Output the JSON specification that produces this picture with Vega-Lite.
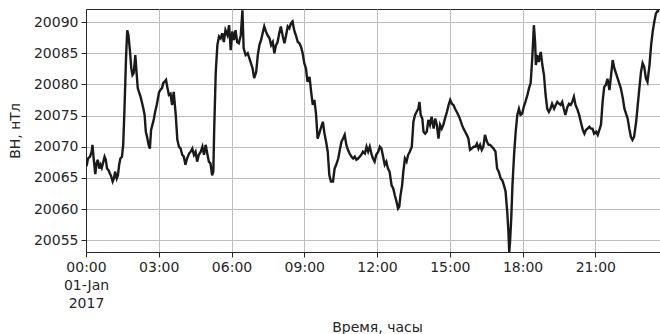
{
  "$schema": "https://vega.github.io/schema/vega-lite/v6.json",
  "width": 574,
  "height": 243,
  "autosize": {"type": "none"},
  "padding": {"left": 86, "top": 9, "right": 0, "bottom": 82},
  "background": "white",
  "config": {
    "view": {"stroke": "#262626", "strokeWidth": 1},
    "font": "DejaVu Sans",
    "axis": {
      "labelFontSize": 14,
      "titleFontSize": 14,
      "labelColor": "#262626",
      "titleColor": "#262626",
      "titleFontWeight": "normal",
      "domainColor": "#262626",
      "tickColor": "#262626",
      "tickSize": 5,
      "gridColor": "#bdbdbd",
      "labelPadding": 3
    }
  },
  "data": {
    "values": [
      {"time": "2017-01-01T00:00", "bh": 20066.8},
      {"time": "2017-01-01T00:02", "bh": 20067.1},
      {"time": "2017-01-01T00:05", "bh": 20068.1},
      {"time": "2017-01-01T00:10", "bh": 20068.4},
      {"time": "2017-01-01T00:14", "bh": 20069.2},
      {"time": "2017-01-01T00:16", "bh": 20070.3},
      {"time": "2017-01-01T00:19", "bh": 20068.1},
      {"time": "2017-01-01T00:23", "bh": 20065.6},
      {"time": "2017-01-01T00:26", "bh": 20067.3},
      {"time": "2017-01-01T00:29", "bh": 20067.9},
      {"time": "2017-01-01T00:33", "bh": 20066.5},
      {"time": "2017-01-01T00:36", "bh": 20067.1},
      {"time": "2017-01-01T00:39", "bh": 20066.6},
      {"time": "2017-01-01T00:43", "bh": 20067.6},
      {"time": "2017-01-01T00:46", "bh": 20068.4},
      {"time": "2017-01-01T00:49", "bh": 20067.9},
      {"time": "2017-01-01T00:52", "bh": 20066.5},
      {"time": "2017-01-01T00:56", "bh": 20066.2},
      {"time": "2017-01-01T00:59", "bh": 20065.7},
      {"time": "2017-01-01T01:02", "bh": 20065.3},
      {"time": "2017-01-01T01:06", "bh": 20064.4},
      {"time": "2017-01-01T01:09", "bh": 20064.9},
      {"time": "2017-01-01T01:12", "bh": 20066.0},
      {"time": "2017-01-01T01:16", "bh": 20064.9},
      {"time": "2017-01-01T01:19", "bh": 20065.4},
      {"time": "2017-01-01T01:22", "bh": 20067.1},
      {"time": "2017-01-01T01:25", "bh": 20068.1},
      {"time": "2017-01-01T01:29", "bh": 20068.4},
      {"time": "2017-01-01T01:32", "bh": 20070.3},
      {"time": "2017-01-01T01:35", "bh": 20075.6},
      {"time": "2017-01-01T01:39", "bh": 20084.2},
      {"time": "2017-01-01T01:42", "bh": 20088.7},
      {"time": "2017-01-01T01:45", "bh": 20087.9},
      {"time": "2017-01-01T01:49", "bh": 20085.2},
      {"time": "2017-01-01T01:52", "bh": 20082.6},
      {"time": "2017-01-01T01:55", "bh": 20081.5},
      {"time": "2017-01-01T01:58", "bh": 20081.8},
      {"time": "2017-01-01T02:02", "bh": 20084.7},
      {"time": "2017-01-01T02:05", "bh": 20082.0},
      {"time": "2017-01-01T02:08", "bh": 20079.4},
      {"time": "2017-01-01T02:12", "bh": 20078.6},
      {"time": "2017-01-01T02:15", "bh": 20078.0},
      {"time": "2017-01-01T02:18", "bh": 20077.2},
      {"time": "2017-01-01T02:22", "bh": 20076.1},
      {"time": "2017-01-01T02:25", "bh": 20075.1},
      {"time": "2017-01-01T02:28", "bh": 20072.4},
      {"time": "2017-01-01T02:31", "bh": 20071.6},
      {"time": "2017-01-01T02:35", "bh": 20070.3},
      {"time": "2017-01-01T02:38", "bh": 20069.7},
      {"time": "2017-01-01T02:41", "bh": 20072.7},
      {"time": "2017-01-01T02:45", "bh": 20073.7},
      {"time": "2017-01-01T02:48", "bh": 20074.5},
      {"time": "2017-01-01T02:51", "bh": 20075.6},
      {"time": "2017-01-01T02:55", "bh": 20076.7},
      {"time": "2017-01-01T02:58", "bh": 20077.8},
      {"time": "2017-01-01T03:01", "bh": 20078.8},
      {"time": "2017-01-01T03:04", "bh": 20079.1},
      {"time": "2017-01-01T03:08", "bh": 20079.4},
      {"time": "2017-01-01T03:11", "bh": 20080.2},
      {"time": "2017-01-01T03:14", "bh": 20080.4},
      {"time": "2017-01-01T03:18", "bh": 20080.7},
      {"time": "2017-01-01T03:21", "bh": 20079.6},
      {"time": "2017-01-01T03:25", "bh": 20078.3},
      {"time": "2017-01-01T03:29", "bh": 20078.5},
      {"time": "2017-01-01T03:33", "bh": 20076.7},
      {"time": "2017-01-01T03:37", "bh": 20078.8},
      {"time": "2017-01-01T03:42", "bh": 20075.1},
      {"time": "2017-01-01T03:46", "bh": 20071.1},
      {"time": "2017-01-01T03:50", "bh": 20070.0},
      {"time": "2017-01-01T03:54", "bh": 20069.7},
      {"time": "2017-01-01T03:58", "bh": 20068.7},
      {"time": "2017-01-01T04:02", "bh": 20068.4},
      {"time": "2017-01-01T04:06", "bh": 20067.1},
      {"time": "2017-01-01T04:10", "bh": 20068.1},
      {"time": "2017-01-01T04:15", "bh": 20068.9},
      {"time": "2017-01-01T04:19", "bh": 20069.2},
      {"time": "2017-01-01T04:23", "bh": 20069.7},
      {"time": "2017-01-01T04:27", "bh": 20068.7},
      {"time": "2017-01-01T04:31", "bh": 20069.2},
      {"time": "2017-01-01T04:35", "bh": 20067.6},
      {"time": "2017-01-01T04:39", "bh": 20068.7},
      {"time": "2017-01-01T04:44", "bh": 20069.2},
      {"time": "2017-01-01T04:48", "bh": 20070.0},
      {"time": "2017-01-01T04:52", "bh": 20068.7},
      {"time": "2017-01-01T04:56", "bh": 20070.3},
      {"time": "2017-01-01T05:00", "bh": 20068.9},
      {"time": "2017-01-01T05:04", "bh": 20067.6},
      {"time": "2017-01-01T05:08", "bh": 20067.3},
      {"time": "2017-01-01T05:12", "bh": 20065.4},
      {"time": "2017-01-01T05:15", "bh": 20066.0},
      {"time": "2017-01-01T05:17", "bh": 20072.4},
      {"time": "2017-01-01T05:21", "bh": 20082.0},
      {"time": "2017-01-01T05:25", "bh": 20086.3},
      {"time": "2017-01-01T05:29", "bh": 20087.7},
      {"time": "2017-01-01T05:33", "bh": 20087.4},
      {"time": "2017-01-01T05:37", "bh": 20088.2},
      {"time": "2017-01-01T05:41", "bh": 20086.8},
      {"time": "2017-01-01T05:45", "bh": 20088.7},
      {"time": "2017-01-01T05:50", "bh": 20087.9},
      {"time": "2017-01-01T05:54", "bh": 20089.5},
      {"time": "2017-01-01T05:58", "bh": 20085.5},
      {"time": "2017-01-01T06:02", "bh": 20088.5},
      {"time": "2017-01-01T06:06", "bh": 20087.1},
      {"time": "2017-01-01T06:10", "bh": 20088.7},
      {"time": "2017-01-01T06:14", "bh": 20086.8},
      {"time": "2017-01-01T06:18", "bh": 20086.6},
      {"time": "2017-01-01T06:23", "bh": 20087.9},
      {"time": "2017-01-01T06:27", "bh": 20091.9},
      {"time": "2017-01-01T06:30", "bh": 20085.8},
      {"time": "2017-01-01T06:35", "bh": 20084.7},
      {"time": "2017-01-01T06:40", "bh": 20085.0},
      {"time": "2017-01-01T06:44", "bh": 20084.2},
      {"time": "2017-01-01T06:48", "bh": 20083.4},
      {"time": "2017-01-01T06:52", "bh": 20082.6},
      {"time": "2017-01-01T06:56", "bh": 20081.0},
      {"time": "2017-01-01T07:01", "bh": 20082.0},
      {"time": "2017-01-01T07:05", "bh": 20084.7},
      {"time": "2017-01-01T07:09", "bh": 20086.3},
      {"time": "2017-01-01T07:13", "bh": 20087.1},
      {"time": "2017-01-01T07:17", "bh": 20088.2},
      {"time": "2017-01-01T07:21", "bh": 20089.3},
      {"time": "2017-01-01T07:25", "bh": 20088.5},
      {"time": "2017-01-01T07:29", "bh": 20087.9},
      {"time": "2017-01-01T07:34", "bh": 20087.4},
      {"time": "2017-01-01T07:38", "bh": 20086.3},
      {"time": "2017-01-01T07:42", "bh": 20086.8},
      {"time": "2017-01-01T07:46", "bh": 20085.0},
      {"time": "2017-01-01T07:50", "bh": 20086.3},
      {"time": "2017-01-01T07:54", "bh": 20086.8},
      {"time": "2017-01-01T07:58", "bh": 20088.2},
      {"time": "2017-01-01T08:02", "bh": 20089.3},
      {"time": "2017-01-01T08:07", "bh": 20087.7},
      {"time": "2017-01-01T08:11", "bh": 20086.6},
      {"time": "2017-01-01T08:15", "bh": 20087.9},
      {"time": "2017-01-01T08:19", "bh": 20089.3},
      {"time": "2017-01-01T08:23", "bh": 20089.0},
      {"time": "2017-01-01T08:27", "bh": 20089.8},
      {"time": "2017-01-01T08:31", "bh": 20090.1},
      {"time": "2017-01-01T08:35", "bh": 20088.7},
      {"time": "2017-01-01T08:40", "bh": 20087.7},
      {"time": "2017-01-01T08:44", "bh": 20086.8},
      {"time": "2017-01-01T08:48", "bh": 20086.6},
      {"time": "2017-01-01T08:52", "bh": 20086.0},
      {"time": "2017-01-01T08:56", "bh": 20085.0},
      {"time": "2017-01-01T09:00", "bh": 20083.4},
      {"time": "2017-01-01T09:04", "bh": 20082.6},
      {"time": "2017-01-01T09:08", "bh": 20080.4},
      {"time": "2017-01-01T09:13", "bh": 20081.2},
      {"time": "2017-01-01T09:17", "bh": 20078.8},
      {"time": "2017-01-01T09:21", "bh": 20076.7},
      {"time": "2017-01-01T09:25", "bh": 20077.5},
      {"time": "2017-01-01T09:29", "bh": 20075.3},
      {"time": "2017-01-01T09:33", "bh": 20071.3},
      {"time": "2017-01-01T09:37", "bh": 20072.1},
      {"time": "2017-01-01T09:42", "bh": 20073.2},
      {"time": "2017-01-01T09:46", "bh": 20074.0},
      {"time": "2017-01-01T09:50", "bh": 20072.1},
      {"time": "2017-01-01T09:54", "bh": 20070.8},
      {"time": "2017-01-01T09:58", "bh": 20069.2},
      {"time": "2017-01-01T10:02", "bh": 20065.4},
      {"time": "2017-01-01T10:06", "bh": 20064.4},
      {"time": "2017-01-01T10:11", "bh": 20064.4},
      {"time": "2017-01-01T10:15", "bh": 20066.5},
      {"time": "2017-01-01T10:19", "bh": 20067.1},
      {"time": "2017-01-01T10:24", "bh": 20068.1},
      {"time": "2017-01-01T10:28", "bh": 20069.5},
      {"time": "2017-01-01T10:32", "bh": 20070.8},
      {"time": "2017-01-01T10:36", "bh": 20071.3},
      {"time": "2017-01-01T10:40", "bh": 20071.9},
      {"time": "2017-01-01T10:44", "bh": 20070.3},
      {"time": "2017-01-01T10:48", "bh": 20069.5},
      {"time": "2017-01-01T10:52", "bh": 20068.9},
      {"time": "2017-01-01T10:57", "bh": 20068.4},
      {"time": "2017-01-01T11:01", "bh": 20068.1},
      {"time": "2017-01-01T11:05", "bh": 20068.4},
      {"time": "2017-01-01T11:09", "bh": 20067.9},
      {"time": "2017-01-01T11:13", "bh": 20068.1},
      {"time": "2017-01-01T11:17", "bh": 20068.4},
      {"time": "2017-01-01T11:21", "bh": 20068.7},
      {"time": "2017-01-01T11:25", "bh": 20069.2},
      {"time": "2017-01-01T11:30", "bh": 20068.9},
      {"time": "2017-01-01T11:34", "bh": 20070.0},
      {"time": "2017-01-01T11:38", "bh": 20069.2},
      {"time": "2017-01-01T11:42", "bh": 20070.0},
      {"time": "2017-01-01T11:46", "bh": 20068.9},
      {"time": "2017-01-01T11:50", "bh": 20068.1},
      {"time": "2017-01-01T11:54", "bh": 20067.6},
      {"time": "2017-01-01T11:58", "bh": 20068.7},
      {"time": "2017-01-01T12:03", "bh": 20069.2},
      {"time": "2017-01-01T12:07", "bh": 20070.0},
      {"time": "2017-01-01T12:11", "bh": 20069.7},
      {"time": "2017-01-01T12:15", "bh": 20068.4},
      {"time": "2017-01-01T12:19", "bh": 20067.1},
      {"time": "2017-01-01T12:23", "bh": 20067.6},
      {"time": "2017-01-01T12:27", "bh": 20066.5},
      {"time": "2017-01-01T12:31", "bh": 20066.0},
      {"time": "2017-01-01T12:36", "bh": 20063.8},
      {"time": "2017-01-01T12:40", "bh": 20063.3},
      {"time": "2017-01-01T12:44", "bh": 20062.2},
      {"time": "2017-01-01T12:48", "bh": 20061.2},
      {"time": "2017-01-01T12:52", "bh": 20060.1},
      {"time": "2017-01-01T12:55", "bh": 20060.4},
      {"time": "2017-01-01T12:58", "bh": 20062.2},
      {"time": "2017-01-01T13:02", "bh": 20063.8},
      {"time": "2017-01-01T13:05", "bh": 20066.0},
      {"time": "2017-01-01T13:09", "bh": 20068.1},
      {"time": "2017-01-01T13:13", "bh": 20067.6},
      {"time": "2017-01-01T13:17", "bh": 20068.7},
      {"time": "2017-01-01T13:21", "bh": 20069.2},
      {"time": "2017-01-01T13:26", "bh": 20070.0},
      {"time": "2017-01-01T13:30", "bh": 20074.0},
      {"time": "2017-01-01T13:34", "bh": 20075.1},
      {"time": "2017-01-01T13:38", "bh": 20075.6},
      {"time": "2017-01-01T13:42", "bh": 20076.1},
      {"time": "2017-01-01T13:45", "bh": 20077.2},
      {"time": "2017-01-01T13:48", "bh": 20075.1},
      {"time": "2017-01-01T13:52", "bh": 20074.5},
      {"time": "2017-01-01T13:55", "bh": 20072.4},
      {"time": "2017-01-01T13:59", "bh": 20072.1},
      {"time": "2017-01-01T14:03", "bh": 20072.4},
      {"time": "2017-01-01T14:07", "bh": 20074.3},
      {"time": "2017-01-01T14:11", "bh": 20073.5},
      {"time": "2017-01-01T14:15", "bh": 20074.8},
      {"time": "2017-01-01T14:20", "bh": 20072.9},
      {"time": "2017-01-01T14:24", "bh": 20074.5},
      {"time": "2017-01-01T14:28", "bh": 20073.5},
      {"time": "2017-01-01T14:32", "bh": 20071.3},
      {"time": "2017-01-01T14:36", "bh": 20073.5},
      {"time": "2017-01-01T14:40", "bh": 20072.9},
      {"time": "2017-01-01T14:44", "bh": 20073.5},
      {"time": "2017-01-01T14:48", "bh": 20074.5},
      {"time": "2017-01-01T14:53", "bh": 20075.6},
      {"time": "2017-01-01T14:57", "bh": 20076.7},
      {"time": "2017-01-01T15:01", "bh": 20077.5},
      {"time": "2017-01-01T15:05", "bh": 20076.9},
      {"time": "2017-01-01T15:09", "bh": 20076.7},
      {"time": "2017-01-01T15:13", "bh": 20076.1},
      {"time": "2017-01-01T15:17", "bh": 20075.6},
      {"time": "2017-01-01T15:21", "bh": 20075.1},
      {"time": "2017-01-01T15:26", "bh": 20074.3},
      {"time": "2017-01-01T15:30", "bh": 20073.5},
      {"time": "2017-01-01T15:34", "bh": 20072.9},
      {"time": "2017-01-01T15:38", "bh": 20072.4},
      {"time": "2017-01-01T15:42", "bh": 20071.9},
      {"time": "2017-01-01T15:46", "bh": 20071.3},
      {"time": "2017-01-01T15:50", "bh": 20069.5},
      {"time": "2017-01-01T15:54", "bh": 20069.7},
      {"time": "2017-01-01T15:59", "bh": 20070.0},
      {"time": "2017-01-01T16:03", "bh": 20070.0},
      {"time": "2017-01-01T16:07", "bh": 20070.5},
      {"time": "2017-01-01T16:11", "bh": 20069.7},
      {"time": "2017-01-01T16:15", "bh": 20070.3},
      {"time": "2017-01-01T16:19", "bh": 20069.5},
      {"time": "2017-01-01T16:23", "bh": 20070.0},
      {"time": "2017-01-01T16:27", "bh": 20071.9},
      {"time": "2017-01-01T16:32", "bh": 20070.8},
      {"time": "2017-01-01T16:36", "bh": 20070.3},
      {"time": "2017-01-01T16:40", "bh": 20070.3},
      {"time": "2017-01-01T16:44", "bh": 20070.0},
      {"time": "2017-01-01T16:48", "bh": 20069.7},
      {"time": "2017-01-01T16:53", "bh": 20069.2},
      {"time": "2017-01-01T16:57", "bh": 20066.5},
      {"time": "2017-01-01T17:01", "bh": 20066.0},
      {"time": "2017-01-01T17:06", "bh": 20064.9},
      {"time": "2017-01-01T17:10", "bh": 20064.6},
      {"time": "2017-01-01T17:14", "bh": 20063.8},
      {"time": "2017-01-01T17:18", "bh": 20062.8},
      {"time": "2017-01-01T17:22", "bh": 20059.6},
      {"time": "2017-01-01T17:25", "bh": 20056.4},
      {"time": "2017-01-01T17:27", "bh": 20053.1},
      {"time": "2017-01-01T17:29", "bh": 20054.7},
      {"time": "2017-01-01T17:32", "bh": 20058.5},
      {"time": "2017-01-01T17:35", "bh": 20063.8},
      {"time": "2017-01-01T17:39", "bh": 20068.7},
      {"time": "2017-01-01T17:43", "bh": 20072.4},
      {"time": "2017-01-01T17:47", "bh": 20075.1},
      {"time": "2017-01-01T17:51", "bh": 20076.1},
      {"time": "2017-01-01T17:55", "bh": 20075.1},
      {"time": "2017-01-01T17:59", "bh": 20075.3},
      {"time": "2017-01-01T18:03", "bh": 20076.4},
      {"time": "2017-01-01T18:07", "bh": 20077.2},
      {"time": "2017-01-01T18:12", "bh": 20078.3},
      {"time": "2017-01-01T18:16", "bh": 20079.4},
      {"time": "2017-01-01T18:20", "bh": 20080.2},
      {"time": "2017-01-01T18:24", "bh": 20084.2},
      {"time": "2017-01-01T18:28", "bh": 20089.5},
      {"time": "2017-01-01T18:31", "bh": 20086.8},
      {"time": "2017-01-01T18:33", "bh": 20083.1},
      {"time": "2017-01-01T18:36", "bh": 20084.7},
      {"time": "2017-01-01T18:40", "bh": 20083.6},
      {"time": "2017-01-01T18:45", "bh": 20085.2},
      {"time": "2017-01-01T18:49", "bh": 20083.1},
      {"time": "2017-01-01T18:53", "bh": 20081.5},
      {"time": "2017-01-01T18:57", "bh": 20078.3},
      {"time": "2017-01-01T19:01", "bh": 20076.1},
      {"time": "2017-01-01T19:05", "bh": 20075.6},
      {"time": "2017-01-01T19:09", "bh": 20076.1},
      {"time": "2017-01-01T19:13", "bh": 20076.9},
      {"time": "2017-01-01T19:18", "bh": 20076.1},
      {"time": "2017-01-01T19:22", "bh": 20076.7},
      {"time": "2017-01-01T19:26", "bh": 20077.2},
      {"time": "2017-01-01T19:30", "bh": 20076.9},
      {"time": "2017-01-01T19:34", "bh": 20076.7},
      {"time": "2017-01-01T19:38", "bh": 20077.2},
      {"time": "2017-01-01T19:42", "bh": 20076.1},
      {"time": "2017-01-01T19:46", "bh": 20075.1},
      {"time": "2017-01-01T19:51", "bh": 20076.4},
      {"time": "2017-01-01T19:55", "bh": 20076.9},
      {"time": "2017-01-01T19:59", "bh": 20076.7},
      {"time": "2017-01-01T20:03", "bh": 20077.2},
      {"time": "2017-01-01T20:07", "bh": 20078.0},
      {"time": "2017-01-01T20:11", "bh": 20076.7},
      {"time": "2017-01-01T20:15", "bh": 20076.1},
      {"time": "2017-01-01T20:20", "bh": 20075.1},
      {"time": "2017-01-01T20:24", "bh": 20074.0},
      {"time": "2017-01-01T20:29", "bh": 20072.7},
      {"time": "2017-01-01T20:33", "bh": 20072.1},
      {"time": "2017-01-01T20:37", "bh": 20072.7},
      {"time": "2017-01-01T20:41", "bh": 20072.9},
      {"time": "2017-01-01T20:45", "bh": 20073.2},
      {"time": "2017-01-01T20:49", "bh": 20072.9},
      {"time": "2017-01-01T20:53", "bh": 20072.9},
      {"time": "2017-01-01T20:57", "bh": 20072.1},
      {"time": "2017-01-01T21:02", "bh": 20072.4},
      {"time": "2017-01-01T21:06", "bh": 20071.9},
      {"time": "2017-01-01T21:10", "bh": 20072.7},
      {"time": "2017-01-01T21:14", "bh": 20073.5},
      {"time": "2017-01-01T21:18", "bh": 20077.2},
      {"time": "2017-01-01T21:22", "bh": 20079.6},
      {"time": "2017-01-01T21:26", "bh": 20079.9},
      {"time": "2017-01-01T21:30", "bh": 20080.9},
      {"time": "2017-01-01T21:35", "bh": 20079.1},
      {"time": "2017-01-01T21:39", "bh": 20081.5},
      {"time": "2017-01-01T21:43", "bh": 20083.9},
      {"time": "2017-01-01T21:47", "bh": 20082.6},
      {"time": "2017-01-01T21:51", "bh": 20081.8},
      {"time": "2017-01-01T21:55", "bh": 20081.0},
      {"time": "2017-01-01T21:59", "bh": 20080.2},
      {"time": "2017-01-01T22:03", "bh": 20079.4},
      {"time": "2017-01-01T22:08", "bh": 20077.8},
      {"time": "2017-01-01T22:12", "bh": 20076.1},
      {"time": "2017-01-01T22:16", "bh": 20075.3},
      {"time": "2017-01-01T22:20", "bh": 20074.5},
      {"time": "2017-01-01T22:24", "bh": 20072.9},
      {"time": "2017-01-01T22:28", "bh": 20071.6},
      {"time": "2017-01-01T22:32", "bh": 20071.1},
      {"time": "2017-01-01T22:36", "bh": 20071.6},
      {"time": "2017-01-01T22:41", "bh": 20074.0},
      {"time": "2017-01-01T22:45", "bh": 20076.7},
      {"time": "2017-01-01T22:49", "bh": 20079.4},
      {"time": "2017-01-01T22:53", "bh": 20082.0},
      {"time": "2017-01-01T22:57", "bh": 20083.4},
      {"time": "2017-01-01T23:01", "bh": 20082.8},
      {"time": "2017-01-01T23:05", "bh": 20081.0},
      {"time": "2017-01-01T23:09", "bh": 20080.4},
      {"time": "2017-01-01T23:14", "bh": 20083.1},
      {"time": "2017-01-01T23:18", "bh": 20086.3},
      {"time": "2017-01-01T23:22", "bh": 20088.5},
      {"time": "2017-01-01T23:26", "bh": 20090.1},
      {"time": "2017-01-01T23:30", "bh": 20091.4},
      {"time": "2017-01-01T23:34", "bh": 20091.8},
      {"time": "2017-01-01T23:38", "bh": 20091.7}
    ]
  },
  "mark": {"type": "line", "color": "#1a1a1a", "strokeWidth": 2.4, "clip": true},
  "encoding": {
    "x": {
      "field": "time",
      "type": "temporal",
      "scale": {
        "domain": [
          {"year": 2017, "month": 1, "date": 1, "hours": 0, "minutes": 0},
          {"year": 2017, "month": 1, "date": 1, "hours": 23, "minutes": 40}
        ]
      },
      "axis": {
        "title": "Время, часы",
        "titleX": 291,
        "titlePadding": 10,
        "values": [
          {"year": 2017, "month": 1, "date": 1, "hours": 0},
          {"year": 2017, "month": 1, "date": 1, "hours": 3},
          {"year": 2017, "month": 1, "date": 1, "hours": 6},
          {"year": 2017, "month": 1, "date": 1, "hours": 9},
          {"year": 2017, "month": 1, "date": 1, "hours": 12},
          {"year": 2017, "month": 1, "date": 1, "hours": 15},
          {"year": 2017, "month": 1, "date": 1, "hours": 18},
          {"year": 2017, "month": 1, "date": 1, "hours": 21}
        ],
        "format": "%H:%M",
        "labelExpr": "hours(datum.value) == 0 ? ['00:00', '01-Jan', '2017'] : datum.label",
        "labelLineHeight": 18,
        "labelFlush": false,
        "grid": true
      }
    },
    "y": {
      "field": "bh",
      "type": "quantitative",
      "scale": {"domain": [20053.1, 20092.1], "nice": false, "zero": false},
      "axis": {
        "title": "BH, нТл",
        "values": [20055, 20060, 20065, 20070, 20075, 20080, 20085, 20090],
        "format": "d",
        "titlePadding": 11,
        "grid": true
      }
    }
  }
}
